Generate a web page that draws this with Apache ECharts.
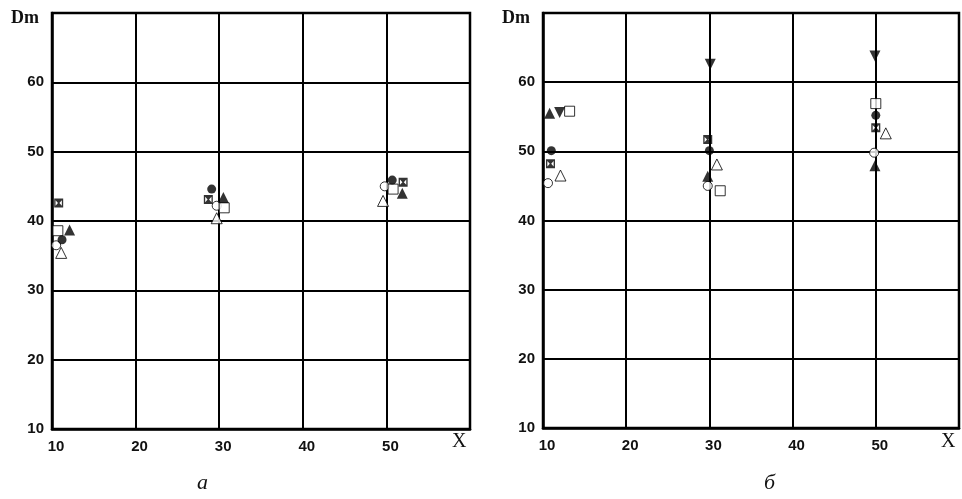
<!DOCTYPE html>
<html><head><meta charset="utf-8">
<script src="https://cdn.jsdelivr.net/npm/echarts@6/dist/echarts.min.js"></script>
<style>html,body{margin:0;padding:0;background:#fff}#c{width:962px;height:499px}</style>
</head><body><div id="c"></div>
<script>
// Axis ticks
const xTicks = [10, 20, 30, 40, 50, 60];
const yTicks = [10, 20, 30, 40, 50, 60, 70];

// Panel a (x, Dm)
const aFilledCircle = [[11.2, 37.3], [29.1, 44.6], [50.7, 45.9]];
const aCrossSquare  = [[10.8, 42.6], [28.7, 43.1], [52.0, 45.6]];
const aOpenSquare   = [[10.7, 38.6], [30.6, 41.9], [50.8, 44.6]];
const aOpenCircle   = [[10.5, 36.5], [29.7, 42.2], [49.8, 45.0]];
const aFilledTri    = [[12.1, 38.7], [30.5, 43.4], [51.9, 44.0]];
const aOpenTri      = [[11.1, 35.4], [29.7, 40.4], [49.6, 42.9]];

// Panel б (x, Dm)
const bFilledCircle = [[11.0, 50.1], [30.0, 50.1], [50.0, 55.2]];
const bCrossSquare  = [[10.9, 48.2], [29.8, 51.7], [50.0, 53.4]];
const bOpenSquare   = [[13.2, 55.8], [31.3, 44.3], [50.0, 56.9]];
const bOpenCircle   = [[10.6, 45.4], [29.8, 45.0], [49.8, 49.8]];
const bFilledTri    = [[10.8, 55.5], [29.8, 46.4], [49.9, 47.9]];
const bOpenTri      = [[12.1, 46.5], [30.9, 48.1], [51.2, 52.6]];
const bFilledDown   = [[12.0, 55.6], [30.1, 62.6], [49.9, 63.8]];

const SYM_CROSSSQ = 'path://M0,0 L10,0 L10,10 L0,10 Z M1.5,2 L1.5,8 L4.2,5 Z M8.5,2 L5.8,5 L8.5,8 Z';
const SYM_DOWN = 'path://M0,0 L10,0 L5,9 Z';

function s(idx, data, symbol, size, filled) {
  return {
    type: 'scatter', xAxisIndex: idx, yAxisIndex: idx, data: data,
    symbol: symbol, symbolSize: size, silent: true,
    itemStyle: { color: filled ? '#000' : '#fff', borderColor: '#000', borderWidth: filled ? 0 : 1 }
  };
}

const labelFont = { fontFamily: 'Liberation Sans, Arial, sans-serif', fontWeight: 'bold', fontSize: 15, color: '#111' };

function xAxis(idx) {
  return {
    type: 'value', gridIndex: idx, min: 10, max: 60, interval: 10,
    axisLine: { show: true, lineStyle: { color: '#000', width: 2.5 } },
    axisTick: { show: false },
    splitLine: { show: true, lineStyle: { color: '#000', width: 2 } },
    axisLabel: Object.assign({ margin: 10, padding: [0, 0, 0, 8], formatter: v => (v === 60 ? '' : String(v)) }, labelFont)
  };
}
function yAxis(idx) {
  return {
    type: 'value', gridIndex: idx, min: 10, max: 70, interval: 10,
    axisLine: { show: true, lineStyle: { color: '#000', width: 2.5 } },
    axisTick: { show: false },
    splitLine: { show: true, lineStyle: { color: '#000', width: 2 } },
    axisLabel: Object.assign({ margin: 8, formatter: v => (v === 70 ? '' : String(v)) }, labelFont)
  };
}

const serif = 'Liberation Serif, Times New Roman, serif';

const option = {
  animation: false,
  backgroundColor: '#fff',
  grid: [
    { left: 52, top: 13, width: 418, height: 416, show: true, borderColor: '#000', borderWidth: 2.5, backgroundColor: 'transparent' },
    { left: 543, top: 13, width: 417, height: 415, show: true, borderColor: '#000', borderWidth: 2.5, backgroundColor: 'transparent' }
  ],
  xAxis: [xAxis(0), xAxis(1)],
  yAxis: [yAxis(0), yAxis(1)],
  graphic: [
    { type: 'text', left: 11, top: 9, style: { text: 'Dm', font: 'bold 18px ' + serif, fill: '#111' } },
    { type: 'text', left: 502, top: 9, style: { text: 'Dm', font: 'bold 18px ' + serif, fill: '#111' } },
    { type: 'text', left: 452, top: 432, style: { text: 'X', font: '20px ' + serif, fill: '#111' } },
    { type: 'text', left: 941, top: 432, style: { text: 'X', font: '20px ' + serif, fill: '#111' } },
    { type: 'text', left: 197, top: 472, style: { text: 'а', font: 'italic 22px ' + serif, fill: '#111' } },
    { type: 'text', left: 764, top: 472, style: { text: 'б', font: 'italic 22px ' + serif, fill: '#111' } }
  ],
  series: [
    s(0, aOpenTri, 'triangle', 11, false),
    s(0, aOpenCircle, 'circle', 9, false),
    s(0, aOpenSquare, 'rect', 10, false),
    s(0, aFilledCircle, 'circle', 9, true),
    s(0, aCrossSquare, SYM_CROSSSQ, 9, true),
    s(0, aFilledTri, 'triangle', 11, true),
    s(1, bOpenTri, 'triangle', 11, false),
    s(1, bOpenCircle, 'circle', 9, false),
    s(1, bOpenSquare, 'rect', 10, false),
    s(1, bFilledCircle, 'circle', 9, true),
    s(1, bCrossSquare, SYM_CROSSSQ, 9, true),
    s(1, bFilledTri, 'triangle', 11, true),
    s(1, bFilledDown, SYM_DOWN, 11, true)
  ]
};
echarts.init(document.getElementById('c'), null, { renderer: 'canvas' }).setOption(option);
</script>
</body></html>
